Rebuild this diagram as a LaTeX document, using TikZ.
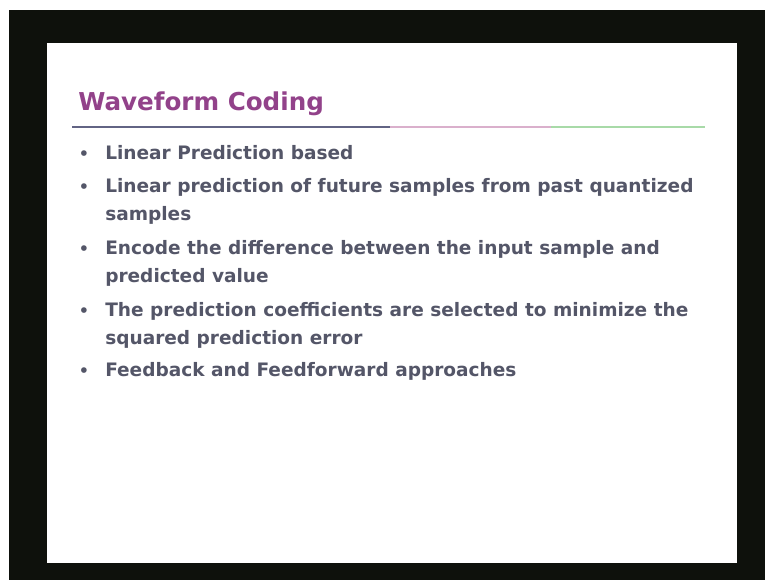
\documentclass[tikz,border=0pt]{standalone}
\usepackage{fontspec}
\setmainfont{DejaVu Sans}
\definecolor{framebg}{RGB}{14,17,12}
\definecolor{titlepurple}{RGB}{146,66,138}
\definecolor{bodygray}{RGB}{84,86,104}
\definecolor{ruledark}{RGB}{98,100,132}
\definecolor{rulepink}{RGB}{218,176,204}
\definecolor{rulegreen}{RGB}{168,218,168}
\begin{document}
\begin{tikzpicture}[x=0.75pt,y=-0.75pt,
  bodytext/.style={anchor=base west,inner sep=0pt,text=bodygray,font=\bfseries\fontsize{13.9}{17}\selectfont},
  dotmark/.style={anchor=base,inner sep=0pt,text=bodygray,font=\bfseries\fontsize{12}{14}\selectfont}]
\useasboundingbox (0,0) rectangle (765,580);
\fill[white] (0,0) rectangle (765,580);
\fill[framebg] (9,10) rectangle (765,580);
\fill[white] (47,43) rectangle (737,563);
%
\node[anchor=base west,inner sep=0pt,text=titlepurple,font=\bfseries\fontsize{18.45}{22}\selectfont] (title) at (78,111) {Waveform Coding};
\coordinate (r0) at (72,127);
\coordinate (r1) at (390,127);
\coordinate (r2) at (551,127);
\coordinate (r3) at (705,127);
\draw[ruledark,line width=2pt] (r0) -- (r1);
\draw[rulepink,line width=2pt] (r1) -- (r2);
\draw[rulegreen,line width=2pt] (r2) -- (r3);
%
\node[dotmark] (d1) at (84,160) {•};
\node[bodytext] (i1) at (105,160) {Linear Prediction based};
\node[dotmark] (d2) at (84,193) {•};
\node[bodytext] (i2) at (105,193) {Linear prediction of future samples from past quantized};
\node[bodytext] (i2b) at (105,221) {samples};
\node[dotmark] (d3) at (84,255) {•};
\node[bodytext] (i3) at (105,255) {Encode the difference between the input sample and};
\node[bodytext] (i3b) at (105,283) {predicted value};
\node[dotmark] (d4) at (84,317) {•};
\node[bodytext] (i4) at (105,317) {The prediction coefficients are selected to minimize the};
\node[bodytext] (i4b) at (105,345) {squared prediction error};
\node[dotmark] (d5) at (84,377) {•};
\node[bodytext] (i5) at (105,377) {Feedback and Feedforward approaches};
\end{tikzpicture}
\end{document}
